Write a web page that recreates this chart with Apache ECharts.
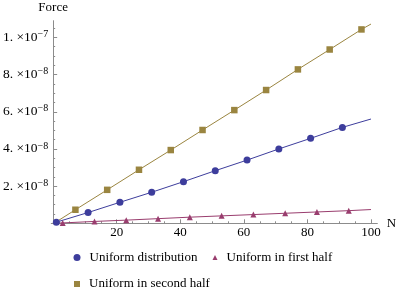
<!DOCTYPE html>
<html>
<head>
<meta charset="utf-8">
<script src="https://cdn.jsdelivr.net/npm/echarts@6/dist/echarts.min.js"></script>
<style>html,body{margin:0;padding:0;background:#fff;}#c{width:399px;height:298px;}</style>
</head>
<body>
<div id="c"></div>
<script>
// Series names
const seriesNames = ['Uniform distribution', 'Uniform in first half', 'Uniform in second half'];
// N values (first/last entries of first-half and second-half are line ends without markers)
const distN   = [1, 11, 21, 31, 41, 51, 61, 71, 81, 91, 100];
const distF   = [0.6e-9, 5.8e-9, 11.3e-9, 16.7e-9, 22.4e-9, 28.3e-9, 34.0e-9, 40.0e-9, 45.7e-9, 51.6e-9, 56.1e-9];
const firstN  = [1, 3, 13, 23, 33, 43, 53, 63, 73, 83, 93, 100];
const firstF  = [0.07e-9, 0.2e-9, 1.0e-9, 1.7e-9, 2.5e-9, 3.3e-9, 4.0e-9, 4.7e-9, 5.4e-9, 6.1e-9, 6.8e-9, 7.4e-9];
const secondN = [1, 7, 17, 27, 37, 47, 57, 67, 77, 87, 97, 100];
const secondF = [0.8e-9, 7.3e-9, 18.0e-9, 28.8e-9, 39.4e-9, 50.2e-9, 60.9e-9, 71.7e-9, 82.8e-9, 93.5e-9, 104.3e-9, 107.2e-9];
// which points carry a marker
const distMarked   = [1,1,1,1,1,1,1,1,1,1,0];
const firstMarked  = [0,1,1,1,1,1,1,1,1,1,1,0];
const secondMarked = [0,1,1,1,1,1,1,1,1,1,1,0];
// tick labels
const xTicks = [20, 40, 60, 80, 100];
const yTicks = [2e-8, 4e-8, 6e-8, 8e-8, 1e-7];
const yMant  = ['2', '4', '6', '8', '1'];
const yExp   = ['\u22128', '\u22128', '\u22128', '\u22128', '\u22127'];

const colors = ['#3d3d9c', '#993d6e', '#9a8540'];
const font = 'Liberation Serif';

function build(ns, fs, marked) {
  return ns.map((n, i) => marked[i] ? [n, fs[i]] : { value: [n, fs[i]], symbol: 'none' });
}
const xMinor = [];
for (let v = 5; v < 100; v += 5) if (v % 20) xMinor.push(v);
const yMinor = [];
for (let k = 1; k <= 21; k++) if (k % 4) yMinor.push(k * 5e-9);

const chart = echarts.init(document.getElementById('c'), null, { renderer: 'canvas' });
const axisColor = '#8c8c8c';
const XMIN = -0.6, XMAX = 102, YMIN = 0, YMAX = 1.09e-7;
const legendText = { fontFamily: font, fontSize: 13, color: '#000', padding: [0, 0, 0, 4] };
chart.setOption({
  animation: false,
  textStyle: { fontFamily: font },
  grid: { left: 51, right: 20, top: 20.7, bottom: 74.7, containLabel: false },
  xAxis: [{
    type: 'value', min: XMIN, max: XMAX, position: 'bottom',
    name: 'N', nameLocation: 'end', nameGap: 6,
    nameTextStyle: { fontFamily: font, fontSize: 13, color: '#000' },
    axisLine: { show: true, onZero: true, lineStyle: { color: axisColor, width: 1 } },
    axisTick: { show: true, inside: true, length: 4, customValues: xTicks, lineStyle: { color: axisColor } },
    axisLabel: { show: true, customValues: xTicks, margin: 3, fontFamily: font, fontSize: 13, color: '#000' },
    splitLine: { show: false }
  }, {
    type: 'value', min: XMIN, max: XMAX, position: 'bottom',
    axisLine: { show: false },
    axisTick: { show: true, inside: true, length: 2, customValues: xMinor, lineStyle: { color: axisColor } },
    axisLabel: { show: false },
    splitLine: { show: false }
  }],
  yAxis: [{
    type: 'value', min: YMIN, max: YMAX, position: 'left',
    name: 'Force', nameLocation: 'end', nameGap: 7,
    nameTextStyle: { fontFamily: font, fontSize: 13, color: '#000', align: 'center' },
    axisLine: { show: true, onZero: true, lineStyle: { color: axisColor, width: 1 } },
    axisTick: { show: true, inside: true, length: 4, customValues: yTicks, lineStyle: { color: axisColor } },
    axisLabel: {
      show: true, customValues: yTicks, margin: 3,
      formatter: function (v) {
        let idx = yTicks.findIndex(t => Math.abs(t - v) < 1e-12);
        if (idx < 0) return '';
        return '{m|' + yMant[idx] + '. \u00d710}{e|' + yExp[idx] + '}';
      },
      rich: {
        m: { fontFamily: font, fontSize: 13.5, color: '#000' },
        e: { fontFamily: font, fontSize: 10, color: '#000', verticalAlign: 'top', padding: [0, 0, 6, 0] }
      }
    },
    splitLine: { show: false }
  }, {
    type: 'value', min: YMIN, max: YMAX, position: 'left',
    axisLine: { show: false, onZero: true },
    axisTick: { show: true, inside: true, length: 2, customValues: yMinor, lineStyle: { color: axisColor } },
    axisLabel: { show: false },
    splitLine: { show: false }
  }],
  legend: [{
    left: 68.5, top: 246, orient: 'horizontal', itemWidth: 7, itemHeight: 7, itemGap: 12,
    textStyle: legendText,
    data: [{ name: seriesNames[0], icon: 'circle' }]
  }, {
    left: 207.5, top: 246, orient: 'horizontal', itemWidth: 5, itemHeight: 5, itemGap: 12,
    textStyle: legendText,
    data: [{ name: seriesNames[1], icon: 'triangle' }]
  }, {
    left: 69, top: 272.5, orient: 'horizontal', itemWidth: 6, itemHeight: 6, itemGap: 7,
    textStyle: legendText,
    data: [{ name: seriesNames[2], icon: 'rect' }]
  }],
  series: [{
    name: seriesNames[0], type: 'line', xAxisIndex: 0, yAxisIndex: 0,
    data: build(distN, distF, distMarked),
    symbol: 'circle', symbolSize: 7, showAllSymbol: true,
    lineStyle: { color: colors[0], width: 1 }, itemStyle: { color: colors[0] }
  }, {
    name: seriesNames[1], type: 'line', xAxisIndex: 0, yAxisIndex: 0,
    data: build(firstN, firstF, firstMarked),
    symbol: 'triangle', symbolSize: 6, showAllSymbol: true,
    lineStyle: { color: colors[1], width: 1 }, itemStyle: { color: colors[1] }
  }, {
    name: seriesNames[2], type: 'line', xAxisIndex: 0, yAxisIndex: 0,
    data: build(secondN, secondF, secondMarked),
    symbol: 'rect', symbolSize: 6.5, showAllSymbol: true,
    lineStyle: { color: colors[2], width: 1 }, itemStyle: { color: colors[2] }
  }]
});
</script>
</body>
</html>
